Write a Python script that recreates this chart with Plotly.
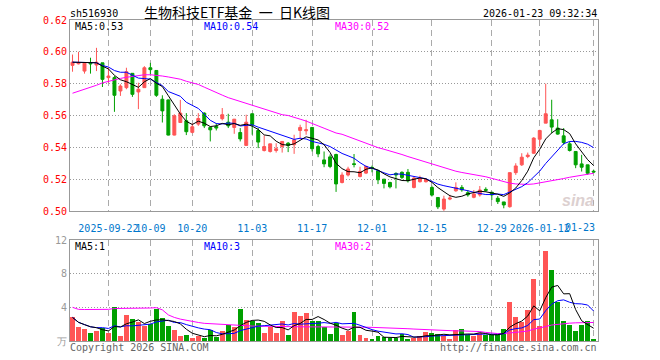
import plotly.graph_objects as go
import pandas as pd

# ---------------- data ----------------
dates = (["2025-09-12"]
         + ["2025-09-%02d" % d for d in (15, 16, 17, 18, 19, 22, 23, 24, 25, 26, 29, 30)]
         + ["2025-10-%02d" % d for d in (9, 10, 13, 14, 15, 16, 17, 20, 21, 22, 23, 24, 27, 28, 29, 30, 31)]
         + ["2025-11-%02d" % d for d in (3, 4, 5, 6, 7, 10, 11, 12, 13, 14, 17, 18, 19, 20, 21, 24, 25, 26, 27, 28)]
         + ["2025-12-%02d" % d for d in (1, 2, 3, 4, 5, 8, 9, 10, 11, 12, 15, 16, 17, 18, 19, 22, 23, 24, 25, 26, 29, 30, 31)]
         + ["2026-01-%02d" % d for d in (5, 6, 7, 8, 9, 12, 13, 14, 15, 16, 19, 20, 21, 22, 23)])

opens = [0.5915, 0.5925, 0.5879, 0.5931, 0.5917, 0.5931, 0.5838, 0.5838, 0.5754, 0.5775,
         0.5865, 0.5748, 0.5775, 0.5900, 0.5883, 0.5702, 0.5698, 0.5477, 0.5556, 0.5567,
         0.5494, 0.5546, 0.5615, 0.5525, 0.5531, 0.5580, 0.5558, 0.5525, 0.5493, 0.5412,
         0.5611, 0.5506, 0.5380, 0.5374, 0.5380, 0.5405, 0.5426, 0.5416, 0.5506, 0.5504,
         0.5525, 0.5405, 0.5321, 0.5340, 0.5355, 0.5179, 0.5226, 0.5297, 0.5217, 0.5238,
         0.5274, 0.5253, 0.5200, 0.5179, 0.5236, 0.5243, 0.5243, 0.5148, 0.5184, 0.5184,
         0.5148, 0.5085, 0.5012, 0.5075, 0.5127, 0.5148, 0.5115, 0.5086, 0.5101, 0.5136,
         0.5118, 0.5080, 0.5057, 0.5027, 0.5241, 0.5290, 0.5342, 0.5363, 0.5451, 0.5552,
         0.5573, 0.5521, 0.5472, 0.5422, 0.5374, 0.5296, 0.5290, 0.5250]
highs = [0.5983, 0.6000, 0.5931, 0.5963, 0.6025, 0.5931, 0.5904, 0.5848, 0.5796, 0.5900,
         0.5865, 0.5806, 0.5910, 0.5931, 0.5883, 0.5727, 0.5700, 0.5608, 0.5698, 0.5615,
         0.5550, 0.5615, 0.5620, 0.5531, 0.5552, 0.5647, 0.5611, 0.5577, 0.5521, 0.5605,
         0.5611, 0.5521, 0.5475, 0.5422, 0.5426, 0.5437, 0.5433, 0.5479, 0.5542, 0.5573,
         0.5525, 0.5416, 0.5374, 0.5355, 0.5360, 0.5243, 0.5278, 0.5358, 0.5278, 0.5285,
         0.5285, 0.5259, 0.5200, 0.5184, 0.5243, 0.5249, 0.5264, 0.5215, 0.5222, 0.5205,
         0.5159, 0.5085, 0.5096, 0.5102, 0.5180, 0.5163, 0.5132, 0.5132, 0.5157, 0.5149,
         0.5118, 0.5094, 0.5057, 0.5241, 0.5300, 0.5363, 0.5367, 0.5464, 0.5510, 0.5800,
         0.5699, 0.5577, 0.5521, 0.5437, 0.5374, 0.5353, 0.5290, 0.5260]
lows = [0.5875, 0.5921, 0.5863, 0.5863, 0.5879, 0.5779, 0.5806, 0.5623, 0.5723, 0.5765,
        0.5717, 0.5640, 0.5775, 0.5858, 0.5717, 0.5556, 0.5475, 0.5475, 0.5556, 0.5477,
        0.5488, 0.5535, 0.5521, 0.5437, 0.5506, 0.5569, 0.5521, 0.5485, 0.5437, 0.5412,
        0.5479, 0.5395, 0.5374, 0.5367, 0.5367, 0.5367, 0.5370, 0.5359, 0.5451, 0.5479,
        0.5374, 0.5338, 0.5275, 0.5269, 0.5120, 0.5173, 0.5217, 0.5274, 0.5211, 0.5232,
        0.5243, 0.5169, 0.5142, 0.5142, 0.5142, 0.5200, 0.5179, 0.5142, 0.5179, 0.5179,
        0.5091, 0.5012, 0.5001, 0.5068, 0.5121, 0.5121, 0.5090, 0.5080, 0.5090, 0.5120,
        0.5069, 0.5044, 0.5017, 0.5021, 0.5227, 0.5283, 0.5332, 0.5359, 0.5405, 0.5552,
        0.5489, 0.5479, 0.5416, 0.5374, 0.5269, 0.5248, 0.5227, 0.5240]
closes = [0.5935, 0.5933, 0.5929, 0.5925, 0.5935, 0.5827, 0.5848, 0.5727, 0.5785, 0.5875,
          0.5733, 0.5765, 0.5900, 0.5888, 0.5727, 0.5629, 0.5477, 0.5598, 0.5615, 0.5498,
          0.5529, 0.5581, 0.5535, 0.5510, 0.5521, 0.5605, 0.5535, 0.5577, 0.5453, 0.5558,
          0.5542, 0.5433, 0.5405, 0.5422, 0.5391, 0.5437, 0.5412, 0.5447, 0.5525, 0.5510,
          0.5391, 0.5359, 0.5296, 0.5280, 0.5170, 0.5226, 0.5264, 0.5292, 0.5249, 0.5280,
          0.5270, 0.5196, 0.5173, 0.5152, 0.5226, 0.5211, 0.5190, 0.5207, 0.5205, 0.5198,
          0.5100, 0.5026, 0.5075, 0.5081, 0.5148, 0.5133, 0.5101, 0.5107, 0.5132, 0.5130,
          0.5101, 0.5059, 0.5038, 0.5241, 0.5283, 0.5338, 0.5351, 0.5458, 0.5506, 0.5611,
          0.5527, 0.5483, 0.5430, 0.5380, 0.5290, 0.5275, 0.5237, 0.5245]
# volume in 万 (10k)
volumes = [2.8, 1.64, 1.4, 0.92, 1.16, 1.6, 0.92, 4.0, 0.64, 3.08,
           2.6, 2.24, 1.8, 2.0, 3.84, 2.72, 1.76, 1.28, 0.56, 0.68,
           0.32, 0.64, 0.36, 1.28, 0.48, 1.2, 1.88, 1.68, 3.8, 2.48,
           2.4, 2.08, 0.92, 1.68, 0.92, 2.4, 0.68, 3.44, 2.96, 3.32,
           2.4, 2.4, 1.68, 0.8, 2.08, 0.68, 1.2, 3.48, 0.68, 0.32,
           0.2, 0.56, 0.48, 0.4, 0.4, 0.88, 0.24, 0.4, 0.56, 1.04,
           0.92, 0.88, 0.6, 0.2, 1.28, 1.4, 0.68, 0.56, 1.0, 0.76,
           0.68, 0.68, 1.4, 4.68, 2.88, 2.2, 3.68, 7.4, 1.76, 10.68,
           8.48, 4.68, 2.4, 1.88, 1.2, 1.88, 2.4, 0.2]
# MA30 lines (need history before the first visible day)
ma30_price = [0.5740, 0.5752, 0.5765, 0.5778, 0.5790, 0.5805, 0.5815, 0.5825, 0.5833, 0.5840,
              0.5846, 0.5852, 0.5856, 0.5856, 0.5853, 0.5848, 0.5842, 0.5835, 0.5828, 0.5815,
              0.5805, 0.5795, 0.5778, 0.5760, 0.5742, 0.5728, 0.5712, 0.5700, 0.5688, 0.5678,
              0.5665, 0.5652, 0.5640, 0.5628, 0.5616, 0.5605, 0.5600, 0.5590, 0.5577, 0.5565,
              0.5548, 0.5535, 0.5520, 0.5505, 0.5490, 0.5482, 0.5468, 0.5455, 0.5440, 0.5425,
              0.5410, 0.5398, 0.5388, 0.5378, 0.5368, 0.5355, 0.5342, 0.5330, 0.5318, 0.5308,
              0.5296, 0.5284, 0.5272, 0.5260, 0.5250, 0.5242, 0.5236, 0.5230, 0.5225, 0.5215,
              0.5205, 0.5195, 0.5182, 0.5175, 0.5170, 0.5167, 0.5167, 0.5170, 0.5176, 0.5184,
              0.5190, 0.5196, 0.5204, 0.5212, 0.5218, 0.5226, 0.5232, 0.5237]
ma30_vol = [4.0, 3.76, 3.74, 3.74, 3.74, 3.74, 3.76, 3.86, 3.86, 3.86,
            3.86, 3.88, 3.9, 3.92, 3.96, 3.7, 3.1, 2.8, 2.6, 2.45,
            2.35, 2.2, 2.1, 2.05, 2.0, 1.95, 1.9, 1.86, 1.83, 1.8,
            1.78, 1.76, 1.74, 1.72, 1.7, 1.7, 1.68, 1.68, 1.68, 1.68,
            1.68, 1.68, 1.68, 1.7, 1.72, 1.72, 1.72, 1.72, 1.68, 1.64,
            1.62, 1.6, 1.6, 1.6, 1.58, 1.52, 1.46, 1.42, 1.38, 1.32,
            1.28, 1.26, 1.24, 1.22, 1.2, 1.2, 1.2, 1.18, 1.12, 1.02,
            0.92, 0.88, 0.88, 0.96, 1.04, 1.1, 1.18, 1.4, 1.6, 1.72,
            1.9, 2.0, 2.08, 2.12, 2.16, 2.2, 2.2, 2.2]
tick_dates = ["2025-09-22", "2025-10-09", "2025-10-20", "2025-11-03", "2025-11-17",
              "2025-12-01", "2025-12-15", "2025-12-29", "2026-01-12", "2026-01-23"]
tick_labels = ["2025-09-22", "10-09", "10-20", "11-03", "11-17",
               "12-01", "12-15", "12-29", "2026-01-12", ""]
last_label = "01-23"
price_ticks = [0.50, 0.52, 0.54, 0.56, 0.58, 0.60, 0.62]
vol_ticks = [0, 4, 8, 12]
vol_tick_labels = ["万", "4", "8", "12"]

# ---------------- derived ----------------
cs = pd.Series(closes)
vs = pd.Series(volumes)
ma5 = cs.rolling(5, min_periods=1).mean()
ma10 = cs.rolling(10, min_periods=1).mean()
vma5 = vs.rolling(5, min_periods=1).mean()
vma10 = vs.rolling(10, min_periods=1).mean()

RED = "#ff5555"
GREEN = "#00a000"
BLUE_LINE = "#0000ff"
MAG = "#ff00ff"
MONO = "DejaVu Sans Mono"
bar_colors = [RED if c >= o else GREEN for o, c in zip(opens, closes)]

fig = go.Figure()
fig.add_trace(go.Candlestick(
    x=dates, open=opens, high=highs, low=lows, close=closes,
    increasing=dict(line=dict(color=RED, width=1), fillcolor=RED),
    decreasing=dict(line=dict(color=GREEN, width=1), fillcolor=GREEN),
    whiskerwidth=0, xaxis="x", yaxis="y", showlegend=False, hoverinfo="skip"))
for ser, col in ((ma30_price, MAG), (ma10, BLUE_LINE), (ma5, "black")):
    fig.add_trace(go.Scatter(x=dates, y=list(ser), mode="lines",
                             line=dict(color=col, width=1), xaxis="x", yaxis="y",
                             showlegend=False, hoverinfo="skip"))
fig.add_trace(go.Bar(x=dates, y=volumes, marker=dict(color=bar_colors, line=dict(width=0)),
                     width=0.82, xaxis="x2", yaxis="y2", showlegend=False, hoverinfo="skip"))
for ser, col in ((ma30_vol, MAG), (vma10, BLUE_LINE), (vma5, "black")):
    fig.add_trace(go.Scatter(x=dates, y=list(ser), mode="lines",
                             line=dict(color=col, width=1), xaxis="x2", yaxis="y2",
                             showlegend=False, hoverinfo="skip"))

W, H = 660, 360
L, R, T, B = 70, 62, 20, 19
pw, ph = W - L - R, H - T - B


def px(x):
    return (x - L) / pw


def py(y):
    return (H - B - y) / ph


xr = [-0.42, 87.73]
common_x = dict(type="category", categoryorder="array", categoryarray=dates, range=xr,
                showgrid=True, gridcolor="#aaaaaa", griddash="6px,4px", gridwidth=1,
                showline=True, mirror=True, linecolor="#999999", linewidth=1,
                ticks="", tickvals=tick_dates, zeroline=False, fixedrange=True)

fig.update_layout(
    width=W, height=H, margin=dict(l=L, r=R, t=T, b=B, pad=0),
    paper_bgcolor="white", plot_bgcolor="white", showlegend=False,
    bargap=0,
    xaxis=dict(common_x, anchor="y", domain=[0, 1], rangeslider=dict(visible=False),
               ticktext=tick_labels, tickangle=0, ticklabelstandoff=8,
               tickfont=dict(family=MONO, size=10, color="#0077cc")),
    yaxis=dict(domain=[py(211), 1], range=[0.50, 0.62], tickvals=price_ticks,
               tickformat=".2f", showgrid=True, gridcolor="#999999", griddash="1px,2px",
               showline=True, mirror=True, linecolor="#999999", linewidth=1,
               ticks="", zeroline=False,
               tickfont=dict(family=MONO, size=10, color="#ff0000")),
    xaxis2=dict(common_x, anchor="y2", domain=[0, 1], matches="x", showticklabels=False),
    yaxis2=dict(domain=[0, py(240)], range=[0, 12], tickvals=vol_ticks,
                ticktext=vol_tick_labels, showgrid=True, gridcolor="#999999",
                griddash="1px,2px", showline=True, mirror=True, linecolor="#999999",
                linewidth=1, ticks="", zeroline=False,
                tickfont=dict(family=MONO, size=10, color="#999999")),
)


def note(text, x, y, anchor="left", color="black", size=10, family=MONO, **kw):
    fig.add_annotation(text=text, xref="paper", yref="paper", x=px(x), y=py(y),
                       xanchor=anchor, yanchor="middle", showarrow=False,
                       font=dict(family=family, size=size, color=color), borderpad=0, **kw)


note("sh516930", 69, 13)
note("生物科技ETF基金&nbsp;&nbsp;一&nbsp;&nbsp;日K线图", 237, 12, anchor="center", size=14,
     family="Noto Sans CJK SC")
note("2026-01-23 09:32:34", 598, 13, anchor="right")
note("MA5:%.2f" % ma5.iloc[-1], 74, 26)
note("MA10:%.2f" % ma10.iloc[-1], 203, 26, color=BLUE_LINE)
note("MA30:%.2f" % ma30_price[-1], 334, 26, color=MAG)
note("MA5:%d" % int(vma5.iloc[-1]), 74, 246)
note("MA10:%d" % int(vma10.iloc[-1]), 203, 246, color=BLUE_LINE)
note("MA30:%d" % int(ma30_vol[-1]), 334, 246, color=MAG)
note(last_label, 596, 227, anchor="right", color="#0077cc")
note("Copyright 2026 SINA.COM", 69, 347, color="#666666")
note("http://finance.sina.com.cn", 598, 347, anchor="right", color="#666666")
note("<b><i>sina</i></b>", 578, 200, anchor="center", color="#dcd0d0", size=16,
     family="Liberation Sans")

fig.write_html("out.html")
